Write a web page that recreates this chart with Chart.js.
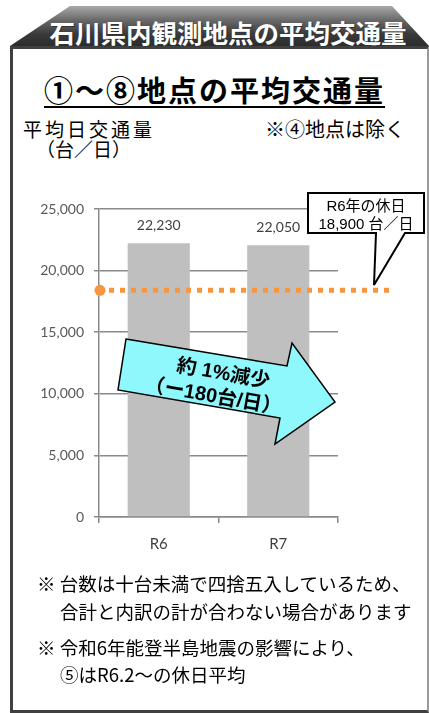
<!DOCTYPE html>
<html lang="ja">
<head>
<meta charset="UTF-8">
<script src="https://cdn.jsdelivr.net/npm/chart.js"></script>
<style>
  html, body { margin: 0; padding: 0; background: #fff; }
  body { width: 429px; height: 713px; position: relative; overflow: hidden;
         font-family: "Noto Sans CJK JP", sans-serif; color: #000; }
  .abs { position: absolute; white-space: nowrap; }
  #frame { position: absolute; left: 10px; top: 46px; width: 414px; height: 661px;
           border: 3px solid #404040; border-right: 2px solid #9a9a9a; }
  #banner { position: absolute; left: 0; top: 0; }
  #chartBox { position: absolute; left: 0; top: 0; width: 429px; height: 713px; }
  #overlay { position: absolute; left: 0; top: 0; }
  .note { font-size: 18.5px; line-height: 18px; }
</style>
</head>
<body>
<div id="frame"></div>

<svg id="banner" width="429" height="50">
  <defs>
    <linearGradient id="bg" x1="0" y1="0" x2="0" y2="1">
      <stop offset="0" stop-color="#a8a8a8"/>
      <stop offset="0.35" stop-color="#6a6a6a"/>
      <stop offset="0.7" stop-color="#3a3a3a"/>
      <stop offset="1" stop-color="#2c2c2c"/>
    </linearGradient>
  </defs>
  <polygon points="70,6 392,6 429,46 10,46" fill="url(#bg)"/>
  <text x="229" y="44" text-anchor="middle" font-size="25.5" font-weight="bold"
        fill="#333" font-family="Noto Sans CJK JP">石川県内観測地点の平均交通量</text>
  <text x="228" y="43" text-anchor="middle" font-size="25.5" font-weight="bold"
        fill="#fff" font-family="Noto Sans CJK JP">石川県内観測地点の平均交通量</text>
</svg>

<div class="abs" style="left:44px; top:72px; font-size:29px; font-weight:bold; letter-spacing:2px; line-height:34px; text-decoration:underline; text-decoration-thickness:2px; text-underline-offset:4px;">①～⑧地点の平均交通量</div>
<div class="abs" style="left:23px; top:118px; font-size:19px; letter-spacing:3px; line-height:22px;">平均日交通量</div>
<div class="abs" style="left:36px; top:138px; font-size:19px; line-height:22px;">（台／日）</div>
<div class="abs" style="left:265px; top:118px; font-size:20px; line-height:22px;">※④地点は除く</div>

<div id="chartBox"><canvas id="myChart"></canvas></div>

<svg id="overlay" width="429" height="713">
  <path d="M308,193 H424 V233 H405 L374,285 L376,233 H308 Z" fill="#fff" stroke="#000" stroke-width="2"/>
  <text x="366" y="211" text-anchor="middle" font-size="15" font-family="Liberation Sans, Noto Sans CJK JP">R6年の休日</text>
  <text x="366" y="229" text-anchor="middle" font-size="15" font-family="Liberation Sans, Noto Sans CJK JP">18,900 台／日</text>

  <polygon points="126,339 287,366 292,343 335,402 275,444 280,418 118,390"
           fill="#8ef8fc" stroke="#000" stroke-width="1.5"/>
  <g transform="rotate(10 218 386)" font-family="Liberation Sans, Noto Sans CJK JP" font-weight="bold" font-size="20" text-anchor="middle">
    <text x="221" y="379">約 1%減少</text>
    <text x="215" y="403">（ー180台/日）</text>
  </g>
</svg>

<div class="abs note" style="left:37px; top:574px;">※ 台数は十台未満で四捨五入しているため、</div>
<div class="abs note" style="left:60px; top:602px;">合計と内訳の計が合わない場合があります</div>
<div class="abs note" style="left:37px; top:638px;">※ 令和6年能登半島地震の影響により、</div>
<div class="abs note" style="left:60px; top:665px;">⑤はR6.2～の休日平均</div>

<script>
  // data
  const categories = ['R6', 'R7'];
  const weekdayAvg = [22230, 22050];
  const yTicks = [0, 5000, 10000, 15000, 20000, 25000];
  const holidayLevel = [18400]; // where the dotted R6 holiday line sits

  const gridColor = '#8a8a8a';

  const barLabels = {
    id: 'barLabels',
    afterDatasetsDraw(chart) {
      const ctx = chart.ctx;
      const meta = chart.getDatasetMeta(0);
      ctx.save();
      ctx.font = '14px Lato, sans-serif';
      ctx.fillStyle = '#404040';
      ctx.textAlign = 'center';
      ctx.textBaseline = 'middle';
      meta.data.forEach(function (bar, i) {
        ctx.fillText(weekdayAvg[i].toLocaleString('en-US'), bar.x, bar.y - 18);
      });
      ctx.restore();
    }
  };

  const holidayLine = {
    id: 'holidayLine',
    afterDatasetsDraw(chart) {
      const ctx = chart.ctx;
      const area = chart.chartArea;
      const y = chart.scales.y.getPixelForValue(holidayLevel[0]);
      ctx.save();
      ctx.strokeStyle = '#f7963e';
      ctx.lineWidth = 5;
      ctx.setLineDash([5, 6]);
      ctx.beginPath();
      ctx.moveTo(area.left + 10, y);
      ctx.lineTo(area.right + 57, y);
      ctx.stroke();
      ctx.setLineDash([]);
      ctx.fillStyle = '#f7963e';
      ctx.beginPath();
      ctx.arc(area.left + 1, y, 5.5, 0, Math.PI * 2);
      ctx.fill();
      ctx.restore();
    }
  };

  new Chart(document.getElementById('myChart'), {
    type: 'bar',
    data: {
      labels: categories,
      datasets: [{
        data: weekdayAvg,
        backgroundColor: '#bfbfbf',
        categoryPercentage: 1,
        barPercentage: 0.52
      }]
    },
    options: {
      responsive: true,
      maintainAspectRatio: false,
      animation: false,
      events: [],
      layout: { padding: { left: 39, top: 209, right: 91, bottom: 156 } },
      plugins: { legend: { display: false }, tooltip: { enabled: false } },
      scales: {
        x: {
          grid: { display: true, drawOnChartArea: false, drawTicks: true, tickLength: 6,
                  color: gridColor, lineWidth: 1.5 },
          border: { display: true, color: gridColor, width: 1.5 },
          ticks: { color: '#404040', font: { family: 'Lato', size: 15 }, padding: 12 },
          afterFit(s) { s.height = 40; }
        },
        y: {
          min: 0,
          max: 25000,
          afterBuildTicks(s) { s.ticks = yTicks.map(function (v) { return { value: v }; }); },
          grid: { color: gridColor, lineWidth: 1.5, tickLength: 5 },
          border: { display: true, color: gridColor, width: 1.5 },
          ticks: {
            color: '#595959',
            font: { family: 'Lato', size: 14 },
            padding: 10,
            callback(v) { return v.toLocaleString('en-US'); }
          },
          afterFit(s) { s.width = 60; }
        }
      }
    },
    plugins: [barLabels, holidayLine]
  });
</script>
</body>
</html>
